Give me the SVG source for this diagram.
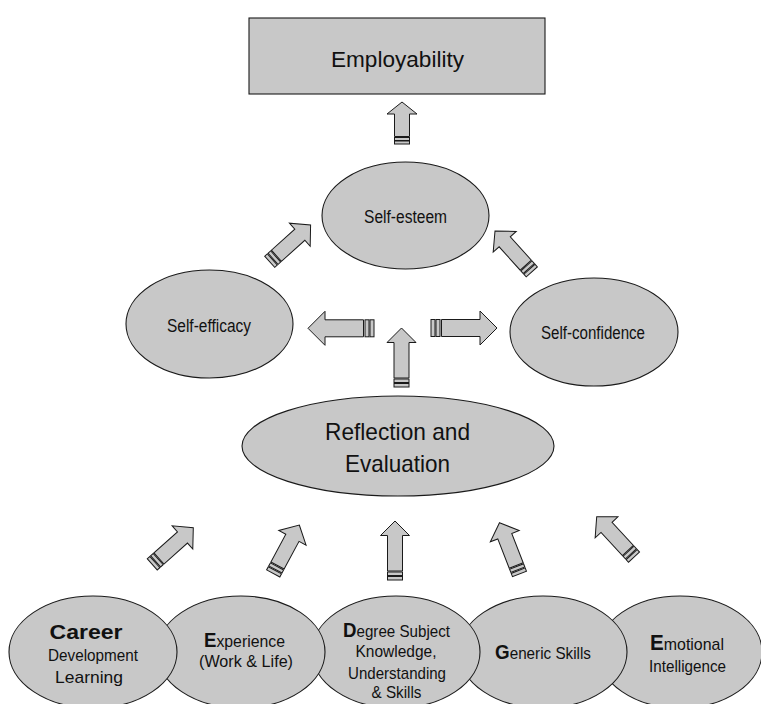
<svg xmlns="http://www.w3.org/2000/svg" width="761" height="704" viewBox="0 0 761 704">
<style>
.shape{fill:#c8c8c8;stroke:#1a1a1a;stroke-width:1.1}
.arrow path,.arrow rect{fill:#c8c8c8;stroke:#1a1a1a;stroke-width:1}
text{font-family:"Liberation Sans",Arial,Helvetica,sans-serif;fill:#111;text-anchor:middle;font-size:17px}
.b{font-weight:bold}
</style>
<defs>
<g id="arrS" class="arrow">
<path d="M0,0 L15.5,14.5 L7.5,14.5 L7.5,46 L-7.5,46 L-7.5,14.5 L-15.5,14.5 Z"/>
<rect x="-7.5" y="47" width="15" height="3.5"/>
<rect x="-7.5" y="51.5" width="15" height="3.5"/>
</g>
<g id="arrV" class="arrow">
<path d="M0,0 L14.5,14.5 L7.5,14.5 L7.5,50 L-7.5,50 L-7.5,14.5 L-14.5,14.5 Z"/>
<rect x="-7.5" y="51" width="15" height="3.5"/>
<rect x="-7.5" y="55.5" width="15" height="3.5"/>
</g>
<g id="arrH" class="arrow">
<path d="M0,0 L17,17 L8.5,17 L8.5,55.5 L-8.5,55.5 L-8.5,17 L-17,17 Z"/>
<rect x="-8.5" y="57" width="17" height="4"/>
<rect x="-8.5" y="62" width="17" height="4"/>
</g>
<g id="arrT" class="arrow">
<path d="M0,0 L15,12 L7.5,12 L7.5,34.5 L-7.5,34.5 L-7.5,12 L-15,12 Z"/>
<rect x="-7.5" y="35.5" width="15" height="3"/>
<rect x="-7.5" y="39" width="15" height="3"/>
</g>
</defs>
<rect width="761" height="704" fill="#ffffff"/>

<g id="connectors">
<use href="#arrT" transform="translate(402,102)"/>
<use href="#arrV" transform="translate(401.5,328)"/>
<use href="#arrH" transform="translate(308,328.3) rotate(-90)"/>
<use href="#arrH" transform="translate(497,328) rotate(90)"/>
<use href="#arrS" transform="translate(310.6,225) rotate(48)"/>
<use href="#arrS" transform="translate(495,231) rotate(-42)"/>
<use href="#arrS" transform="translate(193.3,527.8) rotate(48.3)"/>
<use href="#arrS" transform="translate(299.3,525) rotate(28.3)"/>
<use href="#arrV" transform="translate(395,521)"/>
<use href="#arrS" transform="translate(499.5,522.7) rotate(-21.3)"/>
<use href="#arrS" transform="translate(596.7,516.7) rotate(-42.7)"/>
</g>

<g id="employability">
<rect class="shape" x="249" y="18" width="296" height="76"/>
<text x="397.5" y="67" font-size="22" style="font-size:22px" textLength="133" lengthAdjust="spacingAndGlyphs">Employability</text>
</g>

<g id="self-esteem">
<ellipse class="shape" cx="405.5" cy="215.5" rx="83.5" ry="53.5"/>
<text x="405.5" y="223" style="font-size:17.5px" textLength="83" lengthAdjust="spacingAndGlyphs">Self-esteem</text>
</g>

<g id="self-efficacy">
<ellipse class="shape" cx="209.5" cy="324" rx="83.5" ry="54"/>
<text x="209" y="331.5" style="font-size:17.5px" textLength="84" lengthAdjust="spacingAndGlyphs">Self-efficacy</text>
</g>

<g id="self-confidence">
<ellipse class="shape" cx="594" cy="332" rx="84" ry="54"/>
<text x="593" y="339" style="font-size:17.5px" textLength="104" lengthAdjust="spacingAndGlyphs">Self-confidence</text>
</g>

<g id="reflection">
<ellipse class="shape" cx="398" cy="446" rx="156" ry="50"/>
<text x="397.5" y="440" style="font-size:24px" textLength="145" lengthAdjust="spacingAndGlyphs">Reflection and</text>
<text x="397.5" y="472" style="font-size:24px" textLength="105" lengthAdjust="spacingAndGlyphs">Evaluation</text>
</g>

<g id="emotional-intelligence">
<ellipse class="shape" cx="680" cy="652" rx="82" ry="56"/>
<text x="687" y="650" textLength="74" lengthAdjust="spacingAndGlyphs"><tspan class="b" style="font-size:22px">E</tspan><tspan>motional</tspan></text>
<text x="687.5" y="671.5" textLength="77" lengthAdjust="spacingAndGlyphs">Intelligence</text>
</g>

<g id="generic-skills">
<ellipse class="shape" cx="543" cy="652" rx="84" ry="56"/>
<text x="543" y="659" textLength="96" lengthAdjust="spacingAndGlyphs"><tspan class="b" style="font-size:21px">G</tspan><tspan>eneric Skills</tspan></text>
</g>

<g id="degree-subject">
<ellipse class="shape" cx="396" cy="652" rx="84" ry="56"/>
<text x="396.5" y="637" textLength="107" lengthAdjust="spacingAndGlyphs"><tspan class="b" style="font-size:21px">D</tspan><tspan>egree Subject</tspan></text>
<text x="396" y="657" textLength="81" lengthAdjust="spacingAndGlyphs">Knowledge,</text>
<text x="397" y="679" textLength="98" lengthAdjust="spacingAndGlyphs">Understanding</text>
<text x="396.5" y="698" textLength="50" lengthAdjust="spacingAndGlyphs">&amp; Skills</text>
</g>

<g id="experience">
<ellipse class="shape" cx="241" cy="652" rx="84" ry="56"/>
<text x="244.5" y="647" textLength="81" lengthAdjust="spacingAndGlyphs"><tspan class="b" style="font-size:20px">E</tspan><tspan>xperience</tspan></text>
<text x="246" y="667" textLength="94" lengthAdjust="spacingAndGlyphs">(Work &amp; Life)</text>
</g>

<g id="career">
<ellipse class="shape" cx="93" cy="652" rx="84" ry="56"/>
<text class="b" x="86" y="639" style="font-size:21px" textLength="73" lengthAdjust="spacingAndGlyphs">Career</text>
<text x="93" y="661" textLength="90" lengthAdjust="spacingAndGlyphs">Development</text>
<text x="89" y="683" textLength="68" lengthAdjust="spacingAndGlyphs">Learning</text>
</g>
</svg>
